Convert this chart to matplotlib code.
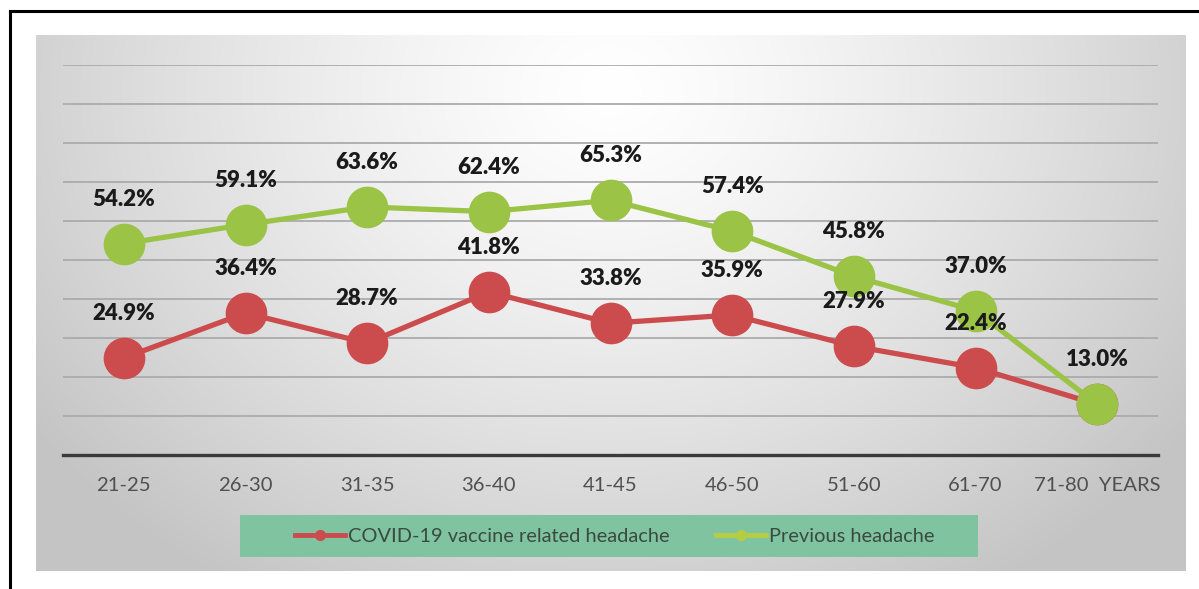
import numpy as np
import matplotlib
matplotlib.use("Agg")
import matplotlib.pyplot as plt
from matplotlib.patches import Rectangle
from matplotlib.lines import Line2D

categories = ["21-25", "26-30", "31-35", "36-40", "41-45", "46-50", "51-60", "61-70", "71-80  YEARS"]
covid_vals = [24.9, 36.4, 28.7, 41.8, 33.8, 35.9, 27.9, 22.4, 13.0]
prev_vals = [54.2, 59.1, 63.6, 62.4, 65.3, 57.4, 45.8, 37.0, 13.0]
series_names = ["COVID-19 vaccine related headache", "Previous headache"]

RED = "#CC4B4C"
GREEN = "#9BC346"
FONT = ["Lato", "DejaVu Sans"]

W, H = 1199, 589
fig = plt.figure(figsize=(W / 100, H / 100), dpi=100)
fig.patch.set_facecolor("white")

# outer frame (top and left lines)
fig.add_artist(Line2D([10 / W, 10 / W], [0, 1 - 11 / H], color="black", lw=2.2, transform=fig.transFigure))
fig.add_artist(Line2D([10 / W, 1], [1 - 11 / H, 1 - 11 / H], color="black", lw=2.2, transform=fig.transFigure))

# gradient background panel
px0, px1, py0, py1 = 36, 1186, 35, 571
bg = fig.add_axes([px0 / W, 1 - py1 / H, (px1 - px0) / W, (py1 - py0) / H])
nx, ny = 400, 200
xx, yy = np.meshgrid(np.linspace(0, 1, nx), np.linspace(0, 1, ny))
d = np.sqrt(((xx - 0.5) / 0.62) ** 2 + ((yy - 0.1) / 1.1) ** 2)
v = 1.0 - 0.23 * np.clip(d, 0, 1) ** 1.3
img = np.dstack([v, v, v])
bg.imshow(img, extent=[0, 1, 0, 1], origin="upper", aspect="auto")
bg.set_axis_off()

# main axes
ax = fig.add_axes([63 / W, 1 - 455 / H, 1095 / W, 390 / H])
ax.set_facecolor("none")
x = np.arange(len(categories))
ax.set_xlim(-0.5, len(categories) - 0.5)
ax.set_ylim(0, 100)
ax.set_yticks(np.arange(10, 101, 10))
ax.yaxis.grid(True, color="#ababab", lw=1.3)
ax.set_axisbelow(True)
for s in ["top", "right", "left"]:
    ax.spines[s].set_visible(False)
ax.spines["bottom"].set_color("#3a3a3a")
ax.spines["bottom"].set_linewidth(2.4)
ax.tick_params(axis="y", left=False, labelleft=False)
ax.tick_params(axis="x", length=0, pad=16, labelsize=14.6, labelcolor="#505050")
ax.set_xticks(x)
ax.set_xticklabels(categories, family=FONT)

ax.plot(x, covid_vals, color=RED, lw=3.8, marker="o", ms=29, clip_on=False, zorder=3)
ax.plot(x, prev_vals, color=GREEN, lw=3.8, marker="o", ms=29, clip_on=False, zorder=4)

for xi, v1 in zip(x, covid_vals):
    ax.annotate(f"{v1:.1f}%", (xi, v1), xytext=(0, 32), textcoords="offset points",
                ha="center", va="center", fontsize=16, fontweight="heavy", color="#1a1a1a",
                family=FONT, zorder=6)
for xi, v2 in zip(x, prev_vals):
    if v2 == 13.0:
        continue
    ax.annotate(f"{v2:.1f}%", (xi, v2), xytext=(0, 32), textcoords="offset points",
                ha="center", va="center", fontsize=16, fontweight="heavy", color="#1a1a1a",
                family=FONT, zorder=6)

# legend box
fig.add_artist(Rectangle((240 / W, 1 - 557 / H), (978 - 240) / W, 42 / H,
                         transform=fig.transFigure, facecolor="#80C3A0", edgecolor="none", zorder=5))
handles = [Line2D([], [], color=RED, lw=3.5, marker="o", ms=7),
           Line2D([], [], color="#B5CC44", lw=3.5, marker="o", ms=7)]
leg = fig.legend(handles, series_names, loc="center", bbox_to_anchor=(615 / W, 1 - 536 / H),
                 ncol=2, frameon=False, handlelength=2.5, handletextpad=0.15, columnspacing=2.3,
                 prop={"family": FONT, "size": 14.4})
for t in leg.get_texts():
    t.set_color("#3a4a40")
leg.set_zorder(6)

fig.savefig("out.png", dpi=100)
